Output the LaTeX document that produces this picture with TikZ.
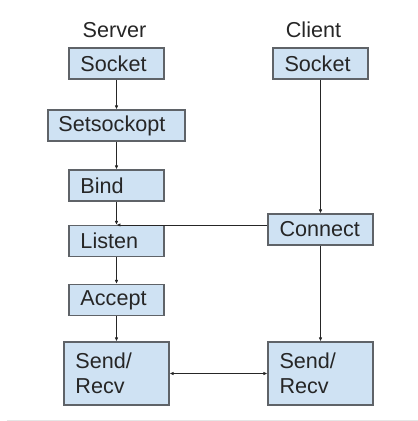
\documentclass[tikz,border=0pt]{standalone}
\usepackage{fontspec}
\setmainfont{Liberation Sans}
\usetikzlibrary{positioning, arrows.meta}

\definecolor{boxfill}{HTML}{CFE2F3}
\definecolor{boxline}{HTML}{5F6368}
\definecolor{ink}{HTML}{262626}

\tikzset{
  call/.style={draw=boxline, fill=boxfill, line width=1.1pt, text=ink,
    minimum width=95pt, minimum height=31pt, inner sep=0pt,
    align=left, text width=72pt,
    font=\fontsize{21.6}{25}\selectfont},
  wide/.style={call, minimum width=137pt, text width=116pt},
  io/.style={call, minimum width=105pt, minimum height=63pt, text width=82pt},
  side/.style={text=ink, font=\fontsize{21.6}{25}\selectfont},
  flow/.style={draw=ink, line width=0.8pt, -{Latex[length=4pt,width=3.5pt]}}
}

\begin{document}
\begin{tikzpicture}[node distance=60pt, on grid]
  \useasboundingbox (-116.5pt,63.5pt) rectangle (301.5pt,-357.5pt);

  % server side
  \node[call] (ssock) {Socket};
  \node[wide] (sopt) [below=62pt of ssock] {Setsockopt};
  \node[call] (bind) [below=60pt of sopt] {Bind};
  \node[call] (listen) [below=55.5pt of bind] {Listen};
  \node[call] (accept) [below=59pt of listen] {Accept};
  \node[io] (ssend) [below=73.5pt of accept] {Send/\\Recv};

  % client side
  \node[call] (csock) [right=204pt of ssock] {Socket};
  \node[io, minimum height=31pt] (conn) [below=166pt of csock] {Connect};
  \node[io] (csend) [below=144pt of conn] {Send/\\Recv};

  \node[side] (server) [above=33.5pt of ssock, xshift=-2pt] {Server};
  \node[side] (client) [above=33.5pt of csock, xshift=-7pt] {Client};

  \coordinate (join) at (conn.west |- listen.north);

  \draw[flow] (ssock) -- (sopt);
  \draw[flow] (sopt) -- (bind);
  \draw[flow] (bind) -- (listen);
  \draw[flow] (listen) -- (accept);
  \draw[flow] (accept) -- (ssend);
  \draw[flow] (join) -- (listen.north);
  \draw[flow] (csock) -- (conn);
  \draw[flow] (conn) -- (csend);
  \draw[flow, {Latex[length=4pt,width=3.5pt]}-{Latex[length=4pt,width=3.5pt]}] (ssend) -- (csend);

  % rule along the foot
  \draw[black!10, line width=1pt] (-109.5pt,-356.5pt) -- (301.5pt,-356.5pt);
\end{tikzpicture}
\end{document}
